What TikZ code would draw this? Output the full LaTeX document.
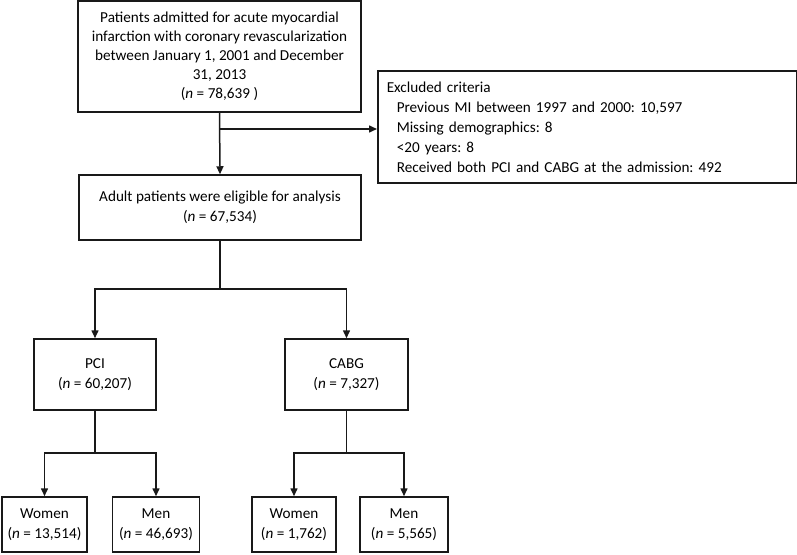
\documentclass[tikz,border=0pt]{standalone}
\usepackage{fontspec}
\setmainfont{Carlito}
\frenchspacing
\usetikzlibrary{arrows.meta}
\begin{document}
\begin{tikzpicture}[x=1pt,y=-1pt,
  box/.style={draw=black!90, line width=1.5pt, rectangle, inner sep=0pt, align=center,
    font=\fontsize{15.2}{20}\selectfont},
  arr/.style={line width=1.5pt, draw=black!90, -{Triangle[length=8pt,width=7pt]}},
  ln/.style={line width=1.5pt, draw=black!90}]
\useasboundingbox (0,0) rectangle (797,554);
\node[box, minimum width=283pt, minimum height=111pt, font=\fontsize{15.2}{19}\selectfont] (top) at (219.5,56.5)
  {Patients admitted for acute myocardial\\infarction with coronary revascularization\\between January 1, 2001 and December\\31, 2013\\(\textit{n} = 78,639 )};
\node[box, minimum width=282pt, minimum height=65pt] (elig) at (220,207.5)
  {Adult patients were eligible for analysis\\(\textit{n} = 67,534)};
\node[box, anchor=west, minimum height=112pt, text width=401pt, inner xsep=9pt, align=left] (excl) at (377,127)
  {Excluded criteria\\
   \hspace*{10pt}Previous MI between 1997 and 2000: 10,597\\
   \hspace*{10pt}Missing demographics: 8\\
   \hspace*{10pt}<20 years: 8\\
   \hspace*{10pt}Received both PCI and CABG at the admission: 492};
\node[box, minimum width=122pt, minimum height=71pt] (pci) at (95,374.5)
  {PCI\\(\textit{n} = 60,207)};
\node[box, minimum width=123pt, minimum height=71pt] (cabg) at (346.5,374.5)
  {CABG\\(\textit{n} = 7,327)};
\node[box, minimum width=85pt, minimum height=55pt] (w1) at (44.5,524.5)
  {Women\\(\textit{n} = 13,514)};
\node[box, minimum width=87pt, minimum height=55pt] (m1) at (156,524.5)
  {Men\\(\textit{n} = 46,693)};
\node[box, minimum width=84pt, minimum height=55pt] (w2) at (294,524.5)
  {Women\\(\textit{n} = 1,762)};
\node[box, minimum width=88pt, minimum height=55pt] (m2) at (404,524.5)
  {Men\\(\textit{n} = 5,565)};
% connectors
\draw[arr] (top.south) -- (elig.north);
\coordinate (b1) at (219.5,129);
\draw[arr] (b1) -- (b1 -| excl.west);
\coordinate (j1) at (220,289);
\draw[ln] (elig.south) -- (j1);
\draw[arr] (j1) -| (pci.north);
\draw[arr] (j1) -| (cabg.north);
\coordinate (j2) at (95,453);
\draw[ln] (pci.south) -- (j2);
\draw[arr] (j2) -| (w1.north);
\draw[arr] (j2) -| (m1.north);
\coordinate (j3) at (346.5,453);
\draw[ln] (cabg.south) -- (j3);
\draw[arr] (j3) -| (w2.north);
\draw[arr] (j3) -| (m2.north);
\end{tikzpicture}
\end{document}
